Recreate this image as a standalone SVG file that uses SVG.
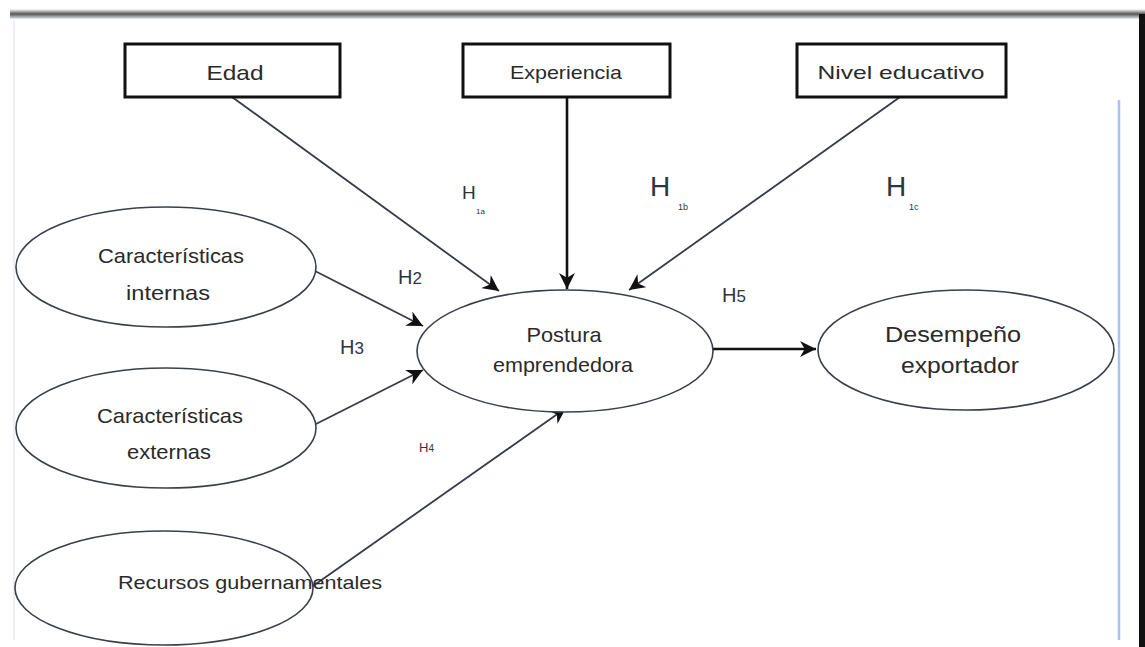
<svg xmlns="http://www.w3.org/2000/svg" width="1145" height="647" viewBox="0 0 1145 647">
<defs>
<linearGradient id="topShadow" x1="0" y1="0" x2="0" y2="1">
<stop offset="0" stop-color="#ffffff"/>
<stop offset="0.5" stop-color="#555555"/>
<stop offset="1" stop-color="#e8eef5"/>
</linearGradient>
<marker id="arrL" viewBox="0 0 10 10" refX="10" refY="5" markerWidth="16" markerHeight="16" markerUnits="userSpaceOnUse" orient="auto">
<path d="M0,0 L10,5 L0,10 L3,5 z" fill="#111"/>
</marker>
</defs>
<style>
.box{fill:#fff;stroke:#111;stroke-width:3}
.ell{fill:#fff;stroke:#3a3f4a;stroke-width:1.6}
.t{font-family:"Liberation Sans",Arial,sans-serif;fill:#2a2a2a;text-anchor:middle}
.h{font-family:"Liberation Sans",Arial,sans-serif;fill:#2f3440}
.conn{stroke:#363b46;stroke-width:1.8;fill:none}
.thick{stroke:#111;stroke-width:2.6;fill:none}
</style>
<rect x="0" y="0" width="1145" height="647" fill="#ffffff"/>
<rect x="10" y="9" width="1135" height="10" fill="url(#topShadow)"/>
<rect x="1139" y="14" width="6" height="633" fill="#111"/>
<line x1="1119" y1="100" x2="1119" y2="640" stroke="#a9c3ee" stroke-width="2.5"/>
<line x1="14" y1="20" x2="14" y2="640" stroke="#eef0f3" stroke-width="2"/>

<g id="connectors">
<line class="conn" x1="232" y1="97" x2="499" y2="291" marker-end="url(#arrL)"/>
<line class="thick" x1="567" y1="97" x2="567" y2="289" marker-end="url(#arrL)"/>
<line class="conn" x1="900" y1="97" x2="629" y2="290" marker-end="url(#arrL)"/>
<line class="conn" x1="315" y1="271" x2="423" y2="326" marker-end="url(#arrL)"/>
<line class="conn" x1="314" y1="425" x2="423" y2="370" marker-end="url(#arrL)"/>
<line class="conn" x1="313" y1="586" x2="566" y2="408" marker-end="url(#arrL)"/>
<line class="thick" x1="713" y1="349" x2="816" y2="349" marker-end="url(#arrL)"/>
</g>

<g id="edad">
<rect class="box" x="125" y="44" width="215" height="53"/>
<text class="t" x="235" y="80" font-size="21" textLength="57" lengthAdjust="spacingAndGlyphs">Edad</text>
</g>
<g id="experiencia">
<rect class="box" x="463" y="44" width="207" height="53"/>
<text class="t" x="566" y="79" font-size="19" textLength="112" lengthAdjust="spacingAndGlyphs">Experiencia</text>
</g>
<g id="nivel">
<rect class="box" x="797" y="44" width="209" height="53"/>
<text class="t" x="901" y="79" font-size="19" textLength="167" lengthAdjust="spacingAndGlyphs">Nivel educativo</text>
</g>

<g id="internas">
<ellipse class="ell" cx="166" cy="267" rx="150" ry="60"/>
<text class="t" x="171" y="263" font-size="21" textLength="146" lengthAdjust="spacingAndGlyphs">Características</text>
<text class="t" x="168" y="300" font-size="21" textLength="84" lengthAdjust="spacingAndGlyphs">internas</text>
</g>
<g id="externas">
<ellipse class="ell" cx="166" cy="428" rx="150" ry="60"/>
<text class="t" x="170" y="423" font-size="21" textLength="146" lengthAdjust="spacingAndGlyphs">Características</text>
<text class="t" x="169" y="459" font-size="21" textLength="84" lengthAdjust="spacingAndGlyphs">externas</text>
</g>
<g id="recursos">
<ellipse class="ell" cx="164" cy="588" rx="149" ry="57"/>
<text class="t" x="250" y="589" font-size="19" textLength="264" lengthAdjust="spacingAndGlyphs">Recursos gubernamentales</text>
</g>
<g id="postura">
<ellipse class="ell" cx="565" cy="351" rx="148" ry="61"/>
<text class="t" x="564" y="342" font-size="21" textLength="75" lengthAdjust="spacingAndGlyphs">Postura</text>
<text class="t" x="563" y="372" font-size="21" textLength="140" lengthAdjust="spacingAndGlyphs">emprendedora</text>
</g>
<g id="desempeno">
<ellipse class="ell" cx="966" cy="350" rx="148" ry="60"/>
<text class="t" x="953" y="342" font-size="22" textLength="136" lengthAdjust="spacingAndGlyphs">Desempeño</text>
<text class="t" x="960" y="373" font-size="22" textLength="118" lengthAdjust="spacingAndGlyphs">exportador</text>
</g>

<g id="labels">
<text class="h" x="462" y="199" font-size="19">H</text>
<text class="h" x="476" y="214" font-size="8" fill="#5a6070">1a</text>
<text class="h" x="650" y="196" font-size="28">H</text>
<text class="h" x="678" y="210" font-size="9">1b</text>
<text class="h" x="886" y="196" font-size="28">H</text>
<text class="h" x="909" y="210" font-size="9">1c</text>
<text class="h" x="398" y="284" font-size="20">H<tspan font-size="17">2</tspan></text>
<text class="h" x="340" y="354" font-size="20">H<tspan font-size="17">3</tspan></text>
<text class="h" x="419" y="452" font-size="13" fill="#4a5263">H<tspan font-size="10">4</tspan></text>
<text class="h" x="722" y="302" font-size="20">H<tspan font-size="17">5</tspan></text>
</g>
</svg>
